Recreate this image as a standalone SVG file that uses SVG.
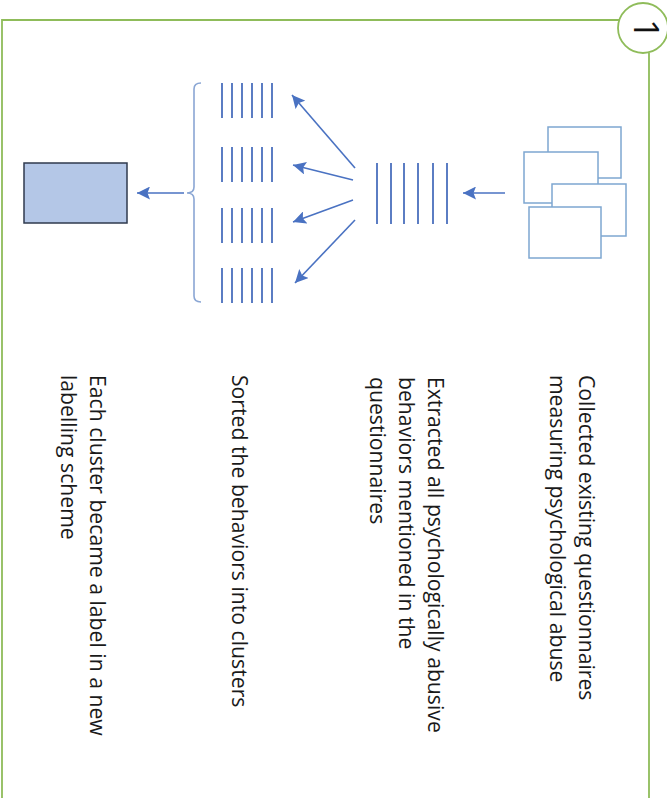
<svg xmlns="http://www.w3.org/2000/svg" width="667" height="798" viewBox="0 0 667 798">
  <style>
    .frame { fill: none; stroke: #8fbc5a; stroke-width: 1.8; }
    .sheet { fill: #ffffff; stroke: #7ea7d1; stroke-width: 1.5; }
    .bar { stroke: #4a6fbd; stroke-width: 1.8; }
    .arrow { stroke: #4a72c2; stroke-width: 1.6; fill: none; marker-end: url(#head); }
    .brace { fill: none; stroke: #8aa6d4; stroke-width: 1.6; }
    .label { font-family: "Open Sans", "Liberation Sans", sans-serif; font-size: 21.2px; fill: #1a1a1a; }
  </style>
  <defs>
    <marker id="head" markerUnits="userSpaceOnUse" markerWidth="14" markerHeight="13" refX="13" refY="6.5" orient="auto">
      <path d="M0,0 L13,6.5 L0,13 L2.5,6.5 Z" fill="#4a72c2"/>
    </marker>
  </defs>

  <rect width="667" height="798" fill="#ffffff"/>

  <!-- outer frame with numbered badge -->
  <g id="frame">
    <path class="frame" d="M619,20 L2,20 L2,798 M649,53 L649,798"/>
    <circle class="frame" cx="643" cy="28" r="25" fill="#ffffff"/>
    <text transform="translate(634,29) rotate(90)" text-anchor="middle" font-family="Open Sans, Liberation Sans, sans-serif" font-size="34" fill="#111">1</text>
  </g>

  <!-- stack of questionnaires -->
  <g id="questionnaires">
    <rect class="sheet" x="548" y="127" width="73" height="51"/>
    <rect class="sheet" x="524" y="152" width="74" height="51"/>
    <rect class="sheet" x="552" y="184" width="74" height="52"/>
    <rect class="sheet" x="529" y="207" width="72" height="51"/>
  </g>

  <!-- all extracted behaviours -->
  <g id="behaviors">
    <line class="bar" x1="377" y1="163" x2="377" y2="224"/>
    <line class="bar" x1="391" y1="163" x2="391" y2="224"/>
    <line class="bar" x1="404" y1="163" x2="404" y2="224"/>
    <line class="bar" x1="418" y1="163" x2="418" y2="224"/>
    <line class="bar" x1="433" y1="163" x2="433" y2="224"/>
    <line class="bar" x1="447" y1="163" x2="447" y2="224"/>
  </g>

  <!-- sorted clusters -->
  <g id="cluster1">
    <path class="bar" d="M222,83V118 M232,83V118 M242,83V118 M252,83V118 M262,83V118 M272,83V118"/>
  </g>
  <g id="cluster2">
    <path class="bar" d="M222,147V182 M232,147V182 M242,147V182 M252,147V182 M262,147V182 M272,147V182"/>
  </g>
  <g id="cluster3">
    <path class="bar" d="M222,208V243 M232,208V243 M242,208V243 M252,208V243 M262,208V243 M272,208V243"/>
  </g>
  <g id="cluster4">
    <path class="bar" d="M222,268V303 M232,268V303 M242,268V303 M252,268V303 M262,268V303 M272,268V303"/>
  </g>
  <g id="brace">
    <path class="brace" d="M201,83 Q194,83 194,89 L194,187 Q194,193 187,193 Q194,193 194,199 L194,296 Q194,302 201,302"/>
  </g>

  <!-- labelling scheme -->
  <g id="scheme">
    <rect x="24" y="163" width="103" height="60" fill="#b4c7e7" stroke="#2f3a4e" stroke-width="1.5"/>
  </g>

  <!-- connectors -->
  <g id="connectors">
    <line class="arrow" x1="505" y1="193" x2="463" y2="193"/>
    <line class="arrow" x1="355" y1="168" x2="292" y2="95"/>
    <line class="arrow" x1="353" y1="180" x2="293" y2="165"/>
    <line class="arrow" x1="353" y1="200" x2="293" y2="222"/>
    <line class="arrow" x1="355" y1="220" x2="295" y2="283"/>
    <line class="arrow" x1="184" y1="193" x2="137" y2="193"/>
  </g>

  <!-- step descriptions -->
  <g id="step1-text">
    <text class="label" transform="translate(579,375) rotate(90)"><tspan x="0" y="0">Collected existing questionnaires</tspan><tspan x="0" y="29">measuring psychological abuse</tspan></text>
  </g>
  <g id="step2-text">
    <text class="label" transform="translate(428,377) rotate(90)"><tspan x="0" y="0">Extracted all psychologically abusive</tspan><tspan x="0" y="29">behaviors mentioned in the</tspan><tspan x="0" y="58">questionnaires</tspan></text>
  </g>
  <g id="step3-text">
    <text class="label" transform="translate(232,375) rotate(90)">Sorted the behaviors into clusters</text>
  </g>
  <g id="step4-text">
    <text class="label" transform="translate(90,375) rotate(90)"><tspan x="0" y="0">Each cluster became a label in a new</tspan><tspan x="0" y="29">labelling scheme</tspan></text>
  </g>
</svg>
